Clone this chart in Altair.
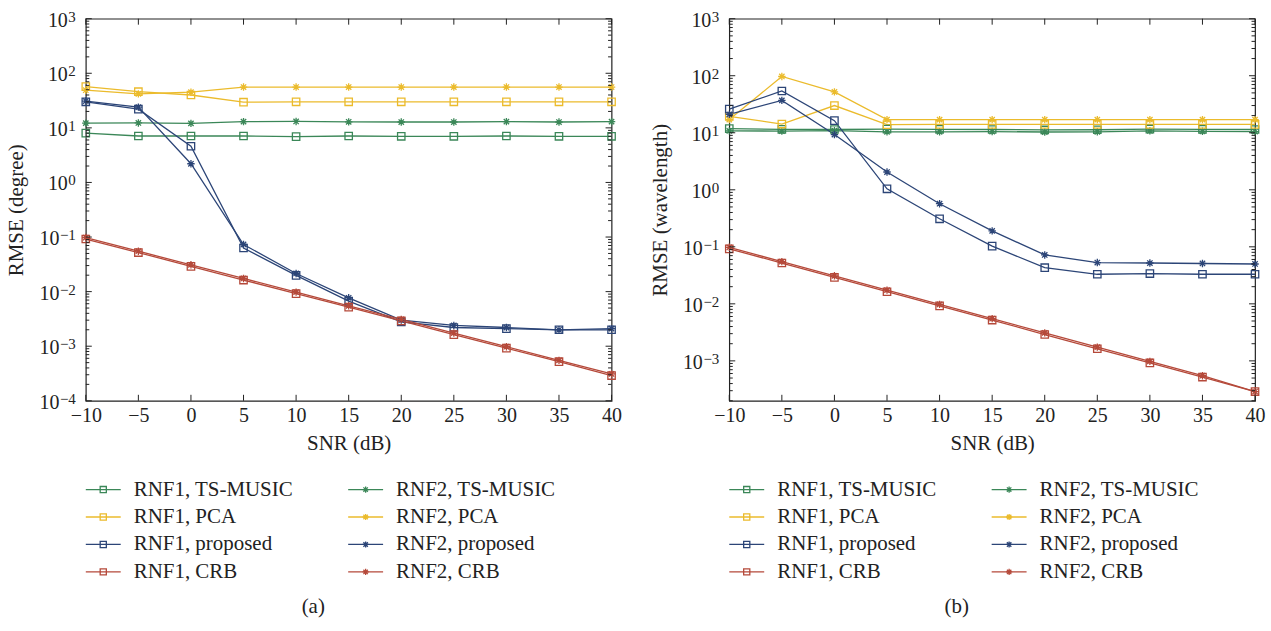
import altair as alt
import pandas as pd

# SNR grid shared by both panels
snr = [-10, -5, 0, 5, 10, 15, 20, 25, 30, 35, 40]

series_names = [
    "RNF1, TS-MUSIC", "RNF2, TS-MUSIC",
    "RNF1, PCA", "RNF2, PCA",
    "RNF1, proposed", "RNF2, proposed",
    "RNF1, CRB", "RNF2, CRB",
]
series_colors = ["#3b8758", "#3b8758", "#ebbb2c", "#ebbb2c",
                 "#2c4577", "#2c4577", "#b5493a", "#b5493a"]

# (a) RMSE in degree
a_rnf1_music = [8.0, 7.1, 7.1, 7.1, 6.9, 7.1, 7.0, 7.0, 7.1, 7.0, 7.0]
a_rnf2_music = [12.2, 12.3, 12.1, 13.0, 13.1, 12.9, 12.8, 12.8, 13.0, 12.8, 13.0]
a_rnf1_pca = [57, 46, 40, 29.5, 30, 30, 30, 30, 30, 30, 30]
a_rnf2_pca = [49, 42, 45, 56, 56, 56, 56, 56, 56, 56, 56]
a_rnf1_prop = [30, 22, 4.6, 0.063, 0.0198, 0.0067, 0.0028, 0.0022, 0.0021, 0.0020, 0.0020]
a_rnf2_prop = [31, 24, 2.2, 0.073, 0.0215, 0.0077, 0.0030, 0.0024, 0.0022, 0.0020, 0.0021]
a_rnf1_crb = [0.092, 0.052, 0.029, 0.0163, 0.0092, 0.0052, 0.0029, 0.00163, 0.00092, 0.00052, 0.00029]
a_rnf2_crb = [0.098, 0.055, 0.031, 0.0174, 0.0098, 0.0055, 0.0031, 0.00174, 0.00098, 0.00055, 0.00031]

# (b) RMSE in wavelength
b_rnf1_music = [11.8, 11.5, 11.4, 11.6, 11.5, 11.4, 11.2, 11.3, 11.6, 11.5, 11.4]
b_rnf2_music = [10.8, 10.7, 10.9, 10.4, 10.4, 10.5, 10.3, 10.4, 10.8, 10.6, 10.5]
b_rnf1_pca = [19.4, 14.2, 30, 13.9, 14, 14, 14, 14, 14, 14, 14]
b_rnf2_pca = [17, 97, 52, 17, 17, 17, 17, 17, 17, 17, 17]
b_rnf1_prop = [26, 54, 16.3, 1.04, 0.31, 0.103, 0.043, 0.033, 0.034, 0.033, 0.033]
b_rnf2_prop = [21, 37, 9.3, 2.05, 0.57, 0.19, 0.072, 0.053, 0.052, 0.051, 0.050]
b_rnf1_crb = [0.092, 0.052, 0.029, 0.0163, 0.0092, 0.0052, 0.0029, 0.00163, 0.00092, 0.00052, 0.00029]
b_rnf2_crb = [0.098, 0.055, 0.031, 0.0174, 0.0098, 0.0055, 0.0031, 0.00174, 0.00098, 0.00055, 0.00029]

ASTERISK = "M-1,0L1,0M0,-1L0,1M-0.72,-0.72L0.72,0.72M-0.72,0.72L0.72,-0.72"
W, H = 527, 383
FONT = "Liberation Serif"
FS_TICK = 20
FS_EXP = 15
FS_TEXT = 21
INK = "#222222"

color_scale = alt.Scale(domain=series_names, range=series_colors)
shape_scale = alt.Scale(domain=["RNF1", "RNF2"], range=["square", ASTERISK])


def long_table(columns):
    rows = []
    for name, values in zip(series_names, columns):
        for s, v in zip(snr, values):
            rows.append({"snr": s, "rmse": v, "series": name, "noise": name.split(",")[0]})
    return pd.DataFrame(rows)


def decade_labels(k_min):
    # "10" plus a raised exponent for every labelled decade
    rows = []
    for k in range(k_min, 4):
        exp = str(k).replace("-", "−")
        w = 7.5 * len(str(abs(k))) + (8.5 if k < 0 else 0)
        rows.append({"v": 10.0 ** k, "exp": exp, "shift": -10.5 - w})
    return pd.DataFrame(rows)


def panel(columns, ymin_exp, ytitle):
    df = long_table(columns)
    ydom = [10 ** ymin_exp, 1000]
    xs = alt.Scale(domain=[-10, 40], nice=False, zero=False)
    ys = alt.Scale(type="log", domain=ydom, nice=False)

    x_enc = alt.X("snr:Q", scale=xs, title="SNR (dB)",
                  axis=alt.Axis(values=snr, ticks=False, domain=False, grid=False,
                                labelFlush=False, labelFontSize=FS_TICK,
                                labelExpr="replace(datum.label, '-', '−')",
                                labelPadding=5, titlePadding=7))
    y_enc = alt.Y("rmse:Q", scale=ys, title=ytitle,
                  axis=alt.Axis(labels=False, ticks=False, domain=False, grid=False,
                                titlePadding=59))

    lines = alt.Chart(df).mark_line(strokeWidth=1.3).encode(
        x=x_enc, y=y_enc,
        color=alt.Color("series:N", scale=color_scale, legend=None),
        detail="series:N",
    )
    points = alt.Chart(df).mark_point(filled=False, size=55, strokeWidth=1.3, opacity=1).encode(
        x="snr:Q", y="rmse:Q",
        color=alt.Color("series:N", scale=color_scale, legend=None),
        shape=alt.Shape("noise:N", scale=shape_scale, legend=None),
    )

    # y tick labels written as 10 with a superscript exponent
    dl = decade_labels(-4 if ymin_exp <= -4 else -3)
    base10 = alt.Chart(dl).mark_text(align="right", baseline="alphabetic", dy=8,
                                     font=FONT, fontSize=FS_TICK, color=INK).encode(
        y=alt.Y("v:Q", scale=ys), x=alt.X("shift:Q", scale=None), text=alt.value("10"))
    expo = alt.Chart(dl).mark_text(align="right", baseline="alphabetic", dy=3,
                                   font=FONT, fontSize=FS_EXP, color=INK).encode(
        y=alt.Y("v:Q", scale=ys), x=alt.value(-10), text="exp:N")

    # inward tick marks on all four sides (log minor ticks on y)
    yt = []
    for k in range(-4, 3):
        for d in range(1, 10):
            v = d * 10.0 ** k
            if ydom[0] <= v <= ydom[1]:
                yt.append({"v": v, "major": d == 1})
    yt.append({"v": 1000.0, "major": True})
    ytd = pd.DataFrame(yt)
    ymaj = alt.Chart(ytd).transform_filter("datum.major")
    ymin = alt.Chart(ytd).transform_filter("!datum.major")
    tick_layers = []
    for src, ln in ((ymaj, 6), (ymin, 3.5)):
        tick_layers.append(src.mark_rule(color=INK, strokeWidth=1).encode(
            y=alt.Y("v:Q", scale=ys), x=alt.value(0), x2=alt.value(ln)))
        tick_layers.append(src.mark_rule(color=INK, strokeWidth=1).encode(
            y=alt.Y("v:Q", scale=ys), x=alt.value(W - ln), x2=alt.value(W)))
    xtd = pd.DataFrame({"t": snr})
    tick_layers.append(alt.Chart(xtd).mark_rule(color=INK, strokeWidth=1).encode(
        x=alt.X("t:Q", scale=xs), y=alt.value(H), y2=alt.value(H - 6)))
    tick_layers.append(alt.Chart(xtd).mark_rule(color=INK, strokeWidth=1).encode(
        x=alt.X("t:Q", scale=xs), y=alt.value(0), y2=alt.value(6)))

    return alt.layer(lines, points, base10, expo, *tick_layers).properties(width=W, height=H)


def legend(caption):
    rows = []
    methods = ["TS-MUSIC", "PCA", "proposed", "CRB"]
    for name in series_names:
        noise, method = [p.strip() for p in name.split(",")]
        col = 0 if noise == "RNF1" else 1
        r = methods.index(method)
        off = col * 263
        rows.append({"series": name, "noise": noise,
                     "x0": off, "x1": off + 35, "xm": off + 17.5, "xt": off + 48,
                     "y": 14 + r * 27.5})
    ld = pd.DataFrame(rows)
    lx = alt.Scale(domain=[0, W], range=[0, W])
    ly = alt.Scale(domain=[0, 150], range=[0, 150])
    base = alt.Chart(ld)
    seg = base.mark_rule(strokeWidth=1.3).encode(
        x=alt.X("x0:Q", scale=lx, axis=None), x2="x1:Q",
        y=alt.Y("y:Q", scale=ly, axis=None),
        color=alt.Color("series:N", scale=color_scale, legend=None))
    mk = base.mark_point(filled=False, size=38, strokeWidth=1.3, opacity=1).encode(
        x=alt.X("xm:Q", scale=lx, axis=None), y=alt.Y("y:Q", scale=ly, axis=None),
        color=alt.Color("series:N", scale=color_scale, legend=None),
        shape=alt.Shape("noise:N", scale=shape_scale, legend=None))
    txt = base.mark_text(align="left", baseline="middle", font=FONT, fontSize=FS_TEXT, color=INK).encode(
        x=alt.X("xt:Q", scale=lx, axis=None), y=alt.Y("y:Q", scale=ly, axis=None),
        text="series:N")
    cap = alt.Chart(pd.DataFrame({"c": [caption], "x": [228], "y": [132]})).mark_text(
        align="center", baseline="middle", font=FONT, fontSize=FS_TEXT, color=INK).encode(
        x=alt.X("x:Q", scale=lx, axis=None), y=alt.Y("y:Q", scale=ly, axis=None), text="c:N")
    return alt.layer(seg, mk, txt, cap).properties(
        width=W, height=150, view=alt.ViewConfig(strokeWidth=0, strokeOpacity=0))


cols_a = [a_rnf1_music, a_rnf2_music, a_rnf1_pca, a_rnf2_pca, a_rnf1_prop, a_rnf2_prop, a_rnf1_crb, a_rnf2_crb]
cols_b = [b_rnf1_music, b_rnf2_music, b_rnf1_pca, b_rnf2_pca, b_rnf1_prop, b_rnf2_prop, b_rnf1_crb, b_rnf2_crb]

left = alt.vconcat(panel(cols_a, -4, "RMSE (degree)"), legend("(a)"), spacing=21)
right = alt.vconcat(panel(cols_b, -3.7, "RMSE (wavelength)"), legend("(b)"), spacing=21)

chart = alt.hconcat(left, right, spacing=26).properties(
    padding={"left": 5, "top": 8, "right": 5, "bottom": 0},
    background="white",
).configure_view(stroke=INK, strokeWidth=1.2).configure_axis(
    labelFont=FONT, titleFont=FONT, labelFontSize=FS_TICK, titleFontSize=FS_TEXT,
    labelColor=INK, titleColor=INK, titleFontWeight="normal",
)

chart.save("out.html", embed_options={"renderer": "svg", "actions": False})
